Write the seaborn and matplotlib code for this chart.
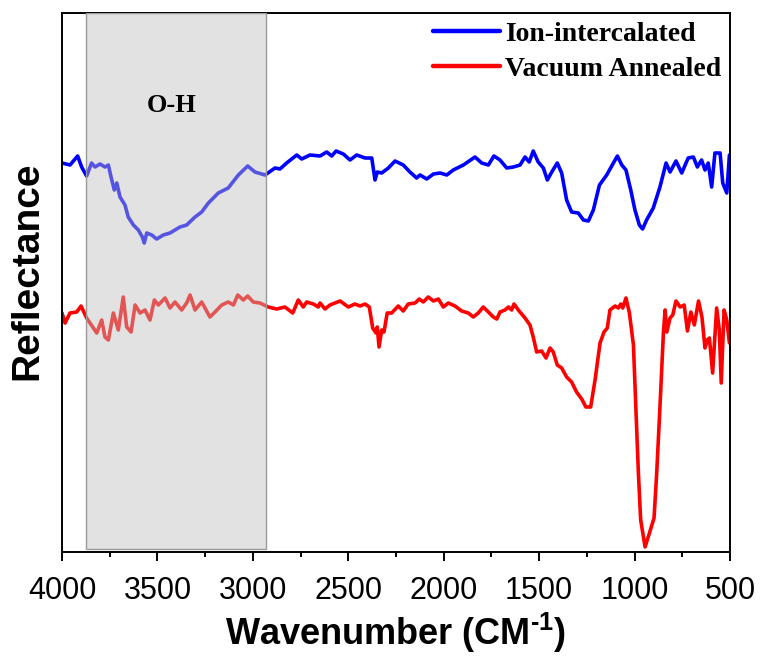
import matplotlib
matplotlib.use("Agg")
import matplotlib.pyplot as plt
from matplotlib.ticker import MultipleLocator
import numpy as np
import pandas as pd
import seaborn as sns

# ---------------- data ----------------
wn_ion = [4000,3958,3918,3897,3871,3845,3827,3801,3775,3757,
          3743,3726,3713,3696,3670,3653,3626,3600,3579,3569,
          3556,3530,3504,3469,3434,3408,3382,3347,3303,3268,
          3233,3181,3129,3076,3027,2989,2936,2884,2858,2823,
          2770,2744,2701,2648,2613,2587,2564,2526,2491,2456,
          2412,2377,2360,2348,2325,2290,2255,2212,2177,2142,
          2124,2089,2054,2019,1984,1950,1897,1836,1801,1766,
          1737,1705,1670,1635,1600,1574,1552,1531,1505,1478,
          1457,1434,1405,1382,1356,1330,1295,1268,1242,1216,
          1184,1146,1111,1090,1067,1045,1020,998,975,958,
          937,902,867,835,814,783,753,719,692,671,
          649,631,614,596,579,552,538,517,503]
val_ion = [389,387,396,385,376,389,385,388,385,387,
           375,362,369,355,347,335,327,322,315,309,
           319,317,313,317,319,322,325,327,335,340,
           349,359,364,377,386,380,377,384,383,389,
           397,393,397,396,400,396,401,398,392,397,
           394,394,372,380,379,384,391,387,380,374,
           377,373,378,379,377,382,387,395,389,387,
           396,392,384,385,387,395,390,401,390,384,
           372,380,389,379,352,340,339,332,331,342,
           367,377,389,396,387,382,362,342,327,323,
           332,344,365,389,380,391,379,394,395,385,
           392,382,389,365,399,399,369,359,397]

wn_vac = [4000,3984,3958,3923,3900,3871,3836,3818,3792,3775,
          3757,3731,3705,3679,3661,3638,3617,3591,3565,3539,
          3516,3495,3460,3434,3408,3373,3347,3329,3303,3268,
          3225,3198,3163,3129,3102,3079,3050,3027,2998,2963,
          2919,2875,2832,2791,2762,2736,2718,2683,2657,2648,
          2622,2596,2543,2500,2465,2438,2412,2390,2372,2355,
          2348,2339,2325,2313,2296,2273,2238,2212,2186,2150,
          2128,2107,2081,2054,2028,2002,1976,1941,1906,1871,
          1845,1819,1793,1766,1740,1722,1705,1679,1661,1644,
          1632,1609,1574,1548,1531,1513,1487,1464,1443,1426,
          1405,1382,1356,1330,1304,1277,1255,1230,1207,1181,
          1160,1143,1129,1102,1085,1072,1062,1045,1027,1006,
          992,980,968,945,922,898,884,867,849,840,
          831,814,800,783,761,740,723,705,687,665,
          647,631,619,608,591,570,556,546,531,517,
          503]
val_vac = [239,229,239,240,246,234,224,219,232,215,
           212,239,222,255,225,220,247,239,242,232,
           252,247,254,244,250,242,249,257,242,250,
           235,240,247,250,247,257,252,256,250,249,
           245,243,245,239,252,245,250,248,245,249,
           243,247,251,245,248,246,248,245,224,219,
           225,205,222,220,239,239,246,241,248,249,
           253,250,255,251,253,245,249,246,241,239,
           235,239,245,240,235,233,240,242,245,242,
           248,242,234,227,215,200,201,194,204,200,
           187,184,175,170,160,153,145,145,172,209,
           220,224,242,246,244,248,244,254,239,207,
           139,79,32,5,19,34,79,145,219,242,
           220,234,237,251,245,247,221,240,227,251,
           235,204,212,214,179,244,222,169,242,232,
           209]

series_names = ["Ion-intercalated", "Vacuum Annealed"]
series_colors = ["#0000ff", "#ff0000"]
x_ticks = [4000, 3500, 3000, 2500, 2000, 1500, 1000, 500]
oh_region = [3875, 2930]
oh_label = "O-H"

# ---------------- build table ----------------
df = pd.concat([
    pd.DataFrame({"Wavenumber": wn_ion, "Reflectance": val_ion, "Sample": series_names[0]}),
    pd.DataFrame({"Wavenumber": wn_vac, "Reflectance": val_vac, "Sample": series_names[1]}),
], ignore_index=True)

# ---------------- style ----------------
sns.set_style("white")
plt.rcParams["font.family"] = ["Liberation Sans", "DejaVu Sans"]
plt.rcParams["mathtext.fontset"] = "custom"
plt.rcParams["mathtext.rm"] = "Liberation Sans:bold"
plt.rcParams["mathtext.bf"] = "Liberation Sans:bold"
plt.rcParams["text.color"] = "black"
plt.rcParams["axes.labelcolor"] = "black"
plt.rcParams["xtick.color"] = "black"
plt.rcParams["xtick.labelcolor"] = "black"

fig = plt.figure(figsize=(7.61, 6.57), dpi=100)
ax = fig.add_axes([62 / 761, 1 - 552 / 657, 668 / 761, 539 / 657])

sns.lineplot(data=df, x="Wavenumber", y="Reflectance", hue="Sample",
             palette=dict(zip(series_names, series_colors)),
             estimator=None, sort=False, linewidth=2.6, ax=ax)

ax.set_xlim(4000, 500)
ax.set_ylim(0, 539)
ax.set_xticks(x_ticks)
ax.set_xticklabels([str(t) for t in x_ticks])
ax.xaxis.set_minor_locator(MultipleLocator(250))
ax.set_yticks([])
ax.tick_params(axis="x", which="major", direction="out", length=6.5, width=1.4,
               labelsize=22, pad=11, bottom=True, colors="black", labelcolor="black")
ax.tick_params(axis="x", which="minor", direction="out", length=3.5, width=1.4, bottom=True,
               colors="black")
for sp in ax.spines.values():
    sp.set_visible(True)
    sp.set_linewidth(1.4)
    sp.set_color("black")

# shaded O-H region (drawn over the lines, semi-transparent)
ax.axvspan(oh_region[0], oh_region[1], ymin=0.006, ymax=1,
           facecolor=(0.75, 0.75, 0.75, 0.45), edgecolor="#9a9a9a", linewidth=1.0, zorder=3)
ax.text(3424, 447, oh_label, family=["Liberation Serif", "DejaVu Serif"], color="black",
        fontweight="bold", fontsize=19, ha="center", va="center", zorder=4)

ax.set_xlabel(r"Wavenumber (CM$^{\text{-1}}$)", fontsize=26, fontweight="bold",
              labelpad=3, color="black")
ax.set_ylabel("Reflectance", fontsize=28, fontweight="bold", color="black")
ax.yaxis.set_label_coords(-0.025, 0.521)

handles, labels = ax.get_legend_handles_labels()
leg = ax.legend(handles, labels, loc="upper right", frameon=False,
                prop={"family": ["Liberation Serif", "DejaVu Serif"], "weight": "bold", "size": 20},
                handlelength=2.4, handletextpad=0.2, labelspacing=0.35,
                borderaxespad=0.1, borderpad=0.2)
for t in leg.get_texts():
    t.set_color("black")
for h in leg.get_lines():
    h.set_linewidth(3.2)

fig.savefig("out.png", dpi=100)
